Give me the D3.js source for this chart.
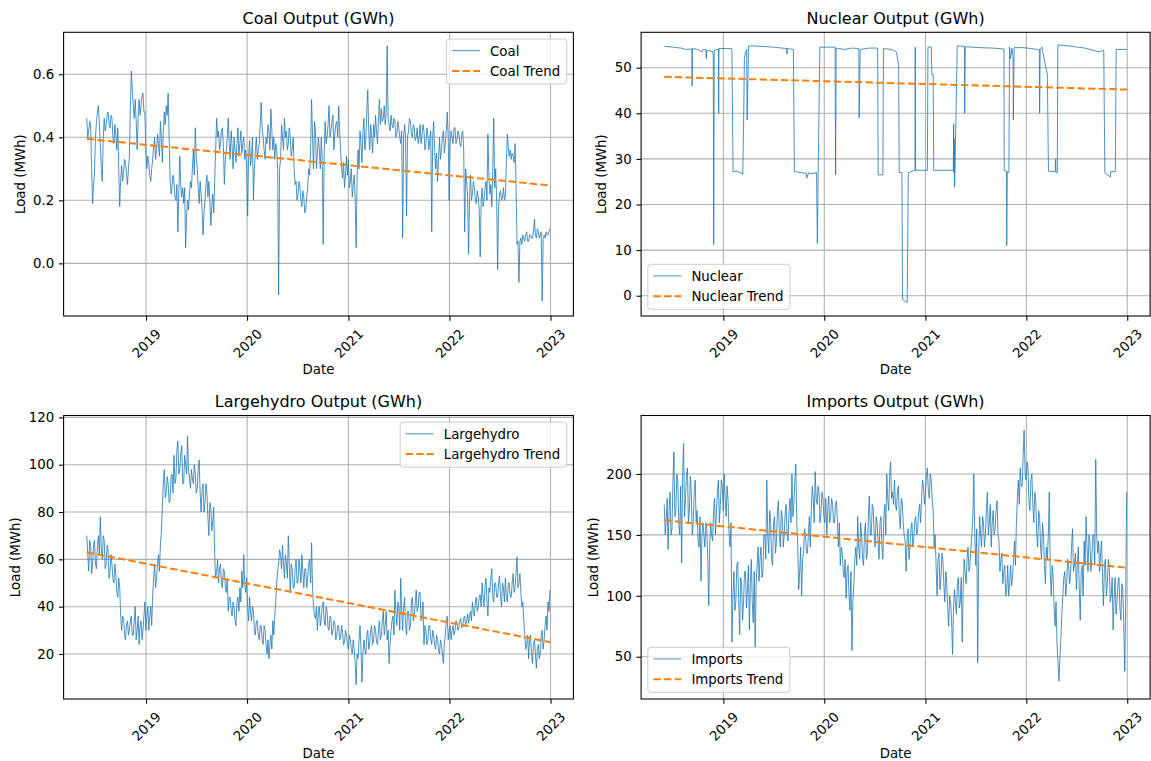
<!DOCTYPE html>
<html><head><meta charset="utf-8">
<script src="https://cdn.jsdelivr.net/npm/d3@7"></script>
<style>
body{margin:0;background:#fff}
svg{display:block}
text{font-family:"DejaVu Sans",sans-serif;fill:#000}
</style>
</head><body>
<svg id="chart" width="1151" height="761"></svg>
<script>
// ---------- data ----------
const startDate = "2018-06-01";   // first weekly sample
const stepDays = 7;               // weekly samples; "Mid" arrays are read half a week later
const yearTicks = ["2019-01-01","2020-01-01","2021-01-01","2022-01-01","2023-01-01"];

const coalValues = [
0.46,0.42,0.44,0.19,0.29,0.45,0.50,0.38,0.26,0.46,
0.44,0.48,0.43,0.46,0.38,0.41,0.43,0.18,0.31,0.29,
0.32,0.25,0.34,0.61,0.50,0.52,0.36,0.52,0.50,0.54,
0.48,0.30,0.32,0.26,0.33,0.40,0.36,0.38,0.45,0.32,
0.48,0.50,0.54,0.27,0.24,0.26,0.20,0.10,0.34,0.21,
0.19,0.05,0.20,0.22,0.24,0.36,0.43,0.30,0.19,0.22,
0.09,0.20,0.28,0.26,0.12,0.22,0.26,0.46,0.42,0.38,
0.43,0.25,0.36,0.46,0.33,0.37,0.40,0.32,0.43,0.38,
0.35,0.40,0.36,0.15,0.39,0.34,0.20,0.36,0.33,0.38,
0.51,0.40,0.33,0.38,0.42,0.49,0.36,0.33,0.36,-0.10,
0.33,0.40,0.46,0.42,0.38,0.40,0.36,0.30,0.26,0.22,
0.24,0.18,0.21,0.17,0.24,0.28,0.52,0.30,0.42,0.35,
0.36,0.40,0.06,0.45,0.40,0.50,0.42,0.47,0.41,0.45,
0.50,0.36,0.27,0.24,0.34,0.33,0.26,0.21,0.28,0.05,
0.36,0.42,0.32,0.46,0.40,0.55,0.36,0.40,0.44,0.47,
0.38,0.52,0.49,0.46,0.44,0.69,0.44,0.47,0.43,0.45,
0.41,0.43,0.38,0.08,0.44,0.15,0.42,0.45,0.40,0.43,
0.40,0.38,0.44,0.41,0.42,0.38,0.41,0.39,0.10,0.45,
0.30,0.26,0.40,0.36,0.42,0.38,0.48,0.20,0.42,0.38,
0.43,0.39,0.41,0.37,0.42,0.10,0.26,0.03,0.28,0.22,
0.24,0.19,0.21,0.02,0.24,0.20,0.26,0.41,0.22,0.18,
0.46,0.30,-0.02,0.22,0.20,0.24,0.21,0.41,0.34,0.33,
0.34,0.38,0.06,-0.06,0.08,0.09,0.07,0.10,0.07,0.09,
0.08,0.14,0.08,0.10,0.09,-0.12,0.09,0.10,0.09,0.11
];
const coalMid = [
0.40,0.45,0.30,0.25,0.40,0.48,0.44,0.30,0.40,0.42,
0.47,0.44,0.47,0.40,0.44,0.36,0.30,0.27,0.26,0.33,
0.28,0.30,0.50,0.55,0.46,0.45,0.46,0.47,0.53,0.48,
0.35,0.34,0.28,0.30,0.37,0.33,0.41,0.34,0.40,0.42,
0.44,0.47,0.40,0.22,0.28,0.21,0.25,0.22,0.25,0.24,
0.24,0.15,0.17,0.26,0.30,0.28,0.34,0.24,0.26,0.17,
0.16,0.25,0.21,0.20,0.18,0.16,0.36,0.40,0.36,0.42,
0.37,0.33,0.40,0.38,0.42,0.30,0.36,0.38,0.34,0.42,
0.38,0.33,0.30,0.34,0.31,0.40,0.30,0.40,0.36,0.44,
0.43,0.36,0.40,0.44,0.36,0.42,0.40,0.38,0.30,0.30,
0.44,0.36,0.40,0.36,0.43,0.34,0.40,0.25,0.20,0.26,
0.20,0.23,0.16,0.21,0.30,0.36,0.40,0.45,0.30,0.40,
0.30,0.33,0.35,0.38,0.44,0.40,0.45,0.36,0.44,0.40,
0.42,0.30,0.32,0.28,0.28,0.24,0.30,0.25,0.20,0.28,
0.30,0.38,0.42,0.36,0.48,0.42,0.44,0.35,0.40,0.42,
0.45,0.44,0.45,0.50,0.48,0.46,0.42,0.44,0.46,0.40,
0.45,0.40,0.42,0.40,0.40,0.40,0.46,0.41,0.44,0.39,
0.43,0.40,0.38,0.44,0.36,0.43,0.36,0.42,0.40,0.36,
0.35,0.33,0.33,0.40,0.35,0.42,0.40,0.38,0.40,0.43,
0.38,0.42,0.38,0.41,0.36,0.30,0.22,0.20,0.20,0.26,
0.20,0.23,0.17,0.20,0.18,0.24,0.20,0.28,0.25,0.30,
0.24,0.20,0.18,0.23,0.21,0.20,0.32,0.37,0.36,0.35,
0.32,0.25,0.07,0.07,0.06,0.08,0.09,0.07,0.09,0.08,
0.10,0.09,0.11,0.08,0.10,0.08,0.08,0.09,0.10
];
const coalTrend = [0.395, 0.247];
const coalTicks = [0.0, 0.2, 0.4, 0.6];

const nuclearDates = [
"2018-06-01","2018-07-01","2018-08-01","2018-08-20","2018-09-09","2018-09-10","2018-09-11","2018-10-01","2018-10-15","2018-10-20",
"2018-10-30","2018-10-31","2018-11-02","2018-11-22","2018-11-25","2018-11-26","2018-11-27","2018-11-29","2018-12-14","2018-12-15",
"2018-12-16","2019-01-31","2019-02-01","2019-02-05","2019-02-20","2019-03-10","2019-03-12","2019-03-15","2019-03-18","2019-03-22",
"2019-03-26","2019-03-28","2019-04-02","2019-05-15","2019-07-01","2019-08-18","2019-08-19","2019-08-20","2019-09-11","2019-09-15",
"2019-10-10","2019-10-28","2019-10-30","2019-11-05","2019-11-20","2019-12-04","2019-12-07","2019-12-10","2019-12-16","2020-02-09",
"2020-02-11","2020-02-13","2020-03-15","2020-04-10","2020-05-05","2020-05-06","2020-05-10","2020-06-10","2020-07-12","2020-07-14",
"2020-07-31","2020-08-02","2020-09-01","2020-09-18","2020-09-26","2020-09-28","2020-10-08","2020-10-10","2020-10-27","2020-10-31",
"2020-11-24","2020-11-25","2020-11-26","2021-01-08","2021-01-10","2021-01-22","2021-01-24","2021-01-29","2021-01-31","2021-04-12",
"2021-04-13","2021-04-14","2021-04-15","2021-04-16","2021-04-18","2021-04-26","2021-05-22","2021-05-23","2021-05-25","2021-07-15",
"2021-09-01","2021-10-12","2021-10-13","2021-10-21","2021-10-22","2021-10-24","2021-10-30","2021-11-01","2021-11-05","2021-11-10",
"2021-11-14","2021-11-15","2021-11-18","2021-12-20","2022-02-10","2022-02-17","2022-02-18","2022-02-20","2022-02-26","2022-03-18",
"2022-03-22","2022-04-15","2022-04-17","2022-04-18","2022-04-23","2022-04-25","2022-06-01","2022-08-01","2022-09-20","2022-10-08",
"2022-10-12","2022-11-01","2022-11-02","2022-11-19","2022-11-22","2022-12-31"
];
const nuclearValues = [
54.7,54.5,54.3,54.0,54.1,46.0,54.2,54.0,53.4,54.0,
53.9,52.0,53.8,53.6,53.0,38.7,11.2,53.8,54.1,40.0,
54.2,54.2,53.5,27.2,27.3,26.8,26.6,37.0,52.0,53.5,
54.0,38.5,54.8,54.7,54.5,54.2,53.0,54.2,54.0,27.2,
27.0,26.8,25.8,26.9,26.8,27.0,11.5,27.0,54.5,54.5,
26.5,54.3,54.0,54.3,54.2,39.0,54.0,54.3,54.3,26.5,
26.5,54.2,54.0,53.5,50.5,27.0,27.0,-0.8,-1.5,27.0,
27.5,54.5,27.5,27.5,54.5,54.5,48.5,48.5,27.5,27.5,
37.7,27.0,34.5,23.8,27.5,54.8,54.7,40.0,54.6,54.4,
54.3,54.1,27.5,27.3,11.0,27.2,27.0,54.5,52.0,54.3,
52.5,38.5,54.4,54.4,54.0,54.0,40.0,54.0,54.5,48.5,
27.3,27.2,30.0,27.0,27.0,55.0,54.8,54.3,53.5,53.8,
27.0,26.0,27.2,27.2,54.0,54.0
];
const nuclearTrend = [48.0, 45.2];
const nuclearTicks = [0, 10, 20, 30, 40, 50];

const largehydroValues = [
70,55,66,58,68,56,70,78,60,68,
58,64,55,58,50,54,44,48,30,35,
26,34,30,36,28,40,30,24,34,30,
42,36,30,40,45,58,52,62,66,82,
98,88,92,85,96,104,94,110,98,108,
92,100,112,94,98,92,96,90,102,80,
92,84,88,70,82,76,62,55,50,58,
48,55,46,38,44,36,40,32,44,48,
55,62,46,40,44,34,38,28,34,26,
32,24,30,20,18,28,34,36,50,58,
62,66,52,58,70,46,56,48,60,50,
56,62,48,56,52,60,67,40,35,30,
40,35,42,32,38,30,35,30,33,28,
32,27,29,25,28,22,26,20,22,7,
18,32,8,26,20,30,25,32,26,30,
24,34,28,38,32,26,16,30,36,47,
32,40,52,30,44,28,38,32,44,36,
47,40,46,36,24,30,26,32,24,28,
22,26,20,24,16,28,36,30,26,32,
30,33,31,35,32,36,34,33,38,42,
36,44,40,45,50,40,52,36,46,56,
42,50,44,53,40,48,52,42,50,44,
54,48,61,50,46,42,28,24,18,28,
16,26,14,24,20,30,26,36,42,47
];
const largehydroMid = [
62,68,54,66,58,66,62,64,70,56,
66,52,62,52,58,46,52,36,36,28,
33,28,34,28,34,26,36,32,26,36,
30,40,36,32,52,48,58,55,72,92,
86,95,84,95,88,92,106,96,105,92,
104,96,98,90,94,100,88,98,88,90,
80,92,78,84,72,82,52,60,56,50,
56,48,52,44,38,42,34,42,38,42,
48,50,52,34,38,40,30,34,28,32,
26,32,24,26,24,22,28,42,55,64,
56,58,62,52,58,58,48,56,50,60,
50,54,56,48,58,50,48,36,40,38,
32,40,34,40,31,36,28,34,26,32,
26,32,24,30,24,28,22,26,16,20,
26,22,20,22,28,22,30,24,32,25,
30,26,34,28,38,30,24,34,28,38,
42,30,38,40,32,38,30,42,34,42,
38,46,34,42,32,24,32,26,30,24,
28,22,26,20,24,34,26,32,30,28,
34,30,34,31,35,32,37,36,34,38,
42,38,44,40,44,48,42,48,52,44,
50,44,50,44,50,42,44,50,44,50,
46,54,48,54,40,34,22,28,26,20,
24,20,22,18,28,22,32,30,38
];
const largehydroTrend = [63.0, 25.0];
const largehydroTicks = [20, 40, 60, 80, 100, 120];

const importsValues = [
175,160,138,185,155,218,170,195,150,127,
225,180,205,170,185,160,195,170,140,112,
160,140,155,92,160,145,180,170,195,175,
190,200,165,178,140,62,120,95,128,68,
110,95,120,105,72,130,78,57,125,112,
140,120,150,195,135,160,125,165,145,178,
140,165,150,175,145,180,200,175,208,140,
120,100,135,150,135,165,170,180,202,175,
185,168,180,160,150,182,165,175,160,178,
140,125,135,115,98,125,88,55,110,140,
165,130,150,125,160,135,182,150,172,140,
160,130,165,130,175,200,170,210,185,195,
170,190,155,178,150,120,155,140,160,148,
165,155,175,180,190,185,205,180,195,170,
150,100,135,115,130,95,110,75,95,52,
105,85,115,95,62,130,110,140,125,150,
200,125,45,165,140,160,150,185,160,140,
170,155,178,145,130,110,125,105,100,125,
115,145,160,195,205,190,236,195,205,170,
200,160,180,140,165,130,150,110,130,185,
100,115,75,60,30,65,100,120,110,125,
118,155,125,105,140,80,125,145,165,120,
145,130,150,212,135,120,145,92,130,110,
125,100,72,115,95,115,80,105,38,185
];
const importsMid = [
150,180,170,150,195,165,200,160,190,200,
165,200,160,198,150,185,160,145,165,150,
150,160,130,140,150,170,150,185,160,195,
170,180,190,150,160,100,88,125,95,115,
80,120,90,125,110,95,120,110,140,130,
115,150,130,150,170,130,160,135,170,150,
170,140,168,150,170,160,165,195,160,105,
140,130,155,135,150,140,190,160,180,190,
160,185,165,180,170,160,180,160,175,160,
160,140,120,130,120,100,120,95,130,125,
140,160,130,152,130,165,150,175,150,165,
145,160,140,165,150,180,200,180,175,175,
185,165,180,160,145,145,130,155,140,162,
150,168,160,195,175,198,185,200,178,140,
125,130,105,135,110,120,90,100,80,90,
95,110,90,115,105,120,130,120,140,165,
150,155,130,150,165,140,170,150,175,160,
150,170,150,120,135,120,100,125,110,108,
130,125,180,175,190,215,200,210,175,195,
175,185,150,170,140,160,125,140,150,120,
125,90,95,45,50,85,115,100,130,110,
140,120,135,125,105,120,100,125,140,150,
120,150,125,150,145,135,115,125,100,130,
95,115,100,85,110,90,110,75,100
];
const importsTrend = [162.0, 123.0];
const importsTicks = [50, 100, 150, 200];

// ---------- setup ----------
const parse = d3.timeParse("%Y-%m-%d");
const start = parse(startDate);
const yearDates = yearTicks.map(parse);

// weekly samples interleaved with the half-week readings
function weeklySeries(values, mids){
  const out = [];
  values.forEach((v,i) => {
    const d = d3.timeDay.offset(start, i * stepDays);
    out.push([d, v]);
    if (i < mids.length) out.push([d3.timeHour.offset(d, stepDays * 12), mids[i]]);
  });
  return out;
}
const datedSeries = (dates, values) => dates.map((d,i) => [parse(d), values[i]]);

const svg = d3.select("#chart");
svg.append("rect").attr("width",1151).attr("height",761).attr("fill","#fff");

const BLUE = "#1f77b4", ORANGE = "#ff7f0e";
const FS = 13.33;

const panels = [
  {title:"Coal Output (GWh)", name:"Coal", pts:weeklySeries(coalValues, coalMid),
   trend:coalTrend, ticks:coalTicks, fmt:d3.format(".1f"), yDomain:[-0.167,0.733],
   legend:"ur", x:63.6, y:32.3, w:509.8, h:283.7},
  {title:"Nuclear Output (GWh)", name:"Nuclear", pts:datedSeries(nuclearDates, nuclearValues),
   trend:nuclearTrend, ticks:nuclearTicks, fmt:d3.format("d"), yDomain:[-4.45,57.76],
   legend:"ll", x:641.1, y:32.3, w:509.0, h:283.7},
  {title:"Largehydro Output (GWh)", name:"Largehydro", pts:weeklySeries(largehydroValues, largehydroMid),
   trend:largehydroTrend, ticks:largehydroTicks, fmt:d3.format("d"), yDomain:[0.97,120.8],
   legend:"ur", x:63.6, y:415.5, w:509.8, h:283.5},
  {title:"Imports Output (GWh)", name:"Imports", pts:weeklySeries(importsValues, importsMid),
   trend:importsTrend, ticks:importsTicks, fmt:d3.format("d"), yDomain:[15.3,248],
   legend:"ll", x:641.1, y:415.5, w:509.0, h:283.5}
];

panels.forEach(drawPanel);

function drawPanel(p){
  const g = svg.append("g").attr("transform", `translate(${p.x},${p.y})`);
  const ext = [parse(startDate), parse("2022-12-31")];
  const span = ext[1] - ext[0];
  const x = d3.scaleTime().domain([new Date(+ext[0] - 0.05*span), new Date(+ext[1] + 0.05*span)]).range([0, p.w]);
  const y = d3.scaleLinear().domain(p.yDomain).range([p.h, 0]);

  // grid
  const grid = g.append("g").attr("stroke","#b0b0b0").attr("stroke-width",1.07);
  grid.selectAll("line.v").data(yearDates).join("line").attr("class","v")
    .attr("x1", d=>x(d)).attr("x2", d=>x(d)).attr("y1",0).attr("y2",p.h);
  grid.selectAll("line.h").data(p.ticks).join("line").attr("class","h")
    .attr("x1",0).attr("x2",p.w).attr("y1", d=>y(d)).attr("y2", d=>y(d));

  const plot = g.append("g");
  plot.append("path").datum(p.pts)
    .attr("d", d3.line().x(d=>x(d[0])).y(d=>y(d[1])))
    .attr("fill","none").attr("stroke",BLUE).attr("stroke-width",0.8).attr("stroke-linejoin","round");

  plot.append("path").datum([[ext[0], p.trend[0]], [ext[1], p.trend[1]]])
    .attr("d", d3.line().x(d=>x(d[0])).y(d=>y(d[1])))
    .attr("fill","none").attr("stroke",ORANGE).attr("stroke-width",2)
    .attr("stroke-dasharray","7.4,3.2");

  // frame
  g.append("rect").attr("width",p.w).attr("height",p.h)
    .attr("fill","none").attr("stroke","#000").attr("stroke-width",1.07);

  // x axis
  const xa = g.append("g").attr("transform",`translate(0,${p.h})`)
    .call(d3.axisBottom(x).tickValues(yearDates).tickFormat(d3.timeFormat("%Y")).tickSize(4.67).tickSizeOuter(0));
  xa.attr("font-size",FS).attr("font-family","DejaVu Sans").attr("color","#000");
  xa.select(".domain").remove();
  xa.selectAll(".tick line").attr("stroke-width",1.07);
  xa.selectAll("text").attr("x",0).attr("y",0).attr("dy","0.35em")
    .attr("text-anchor","middle").attr("transform","translate(0,27.5) rotate(-45)");

  // y axis
  const ya = g.append("g")
    .call(d3.axisLeft(y).tickValues(p.ticks).tickFormat(p.fmt).tickSize(4.67).tickPadding(4.67).tickSizeOuter(0));
  ya.attr("font-size",FS).attr("font-family","DejaVu Sans").attr("color","#000");
  ya.select(".domain").remove();
  ya.selectAll(".tick line").attr("stroke-width",1.07);
  const bb = ya.node().getBBox();

  // labels
  g.append("text").attr("x",p.w/2).attr("y",-8.6).attr("text-anchor","middle")
    .attr("font-size",16).text(p.title);
  g.append("text").attr("x",p.w/2).attr("y",p.h+58.5).attr("text-anchor","middle")
    .attr("font-size",FS).text("Date");
  const lx = bb.x - 5.33 - 3.1;
  g.append("text").attr("transform",`translate(${lx},${p.h/2}) rotate(-90)`)
    .attr("text-anchor","middle").attr("font-size",FS).text("Load (MWh)");

  // legend
  const items = [{label:p.name, color:BLUE, w:0.8, dash:null},
                 {label:p.name + " Trend", color:ORANGE, w:2, dash:"7.4,3.2"}];
  const lg = g.append("g");
  const box = lg.append("rect");
  const txts = items.map(it => lg.append("text").attr("font-size",FS).text(it.label));
  const tw = d3.max(txts, t => t.node().getComputedTextLength());
  const bw = 5.6 + 28 + 10 + tw + 6.6, bh = 45;
  const bx = p.legend === "ur" ? p.w - 6.7 - bw : 6.7;
  const by = p.legend === "ur" ? 6.7 : p.h - 6.7 - bh;
  box.attr("x",bx).attr("y",by).attr("width",bw).attr("height",bh).attr("rx",3)
    .attr("fill","#fff").attr("fill-opacity",0.8).attr("stroke","#cccccc").attr("stroke-width",1);
  items.forEach((it,i) => {
    const ly = by + 11.6 + i*20.3;
    lg.append("line").attr("x1",bx+5.6).attr("x2",bx+5.6+28).attr("y1",ly).attr("y2",ly)
      .attr("stroke",it.color).attr("stroke-width",it.w).attr("stroke-dasharray",it.dash);
    txts[i].attr("x",bx+5.6+28+10).attr("y",ly+5.1);
  });
}
</script>
</body></html>
